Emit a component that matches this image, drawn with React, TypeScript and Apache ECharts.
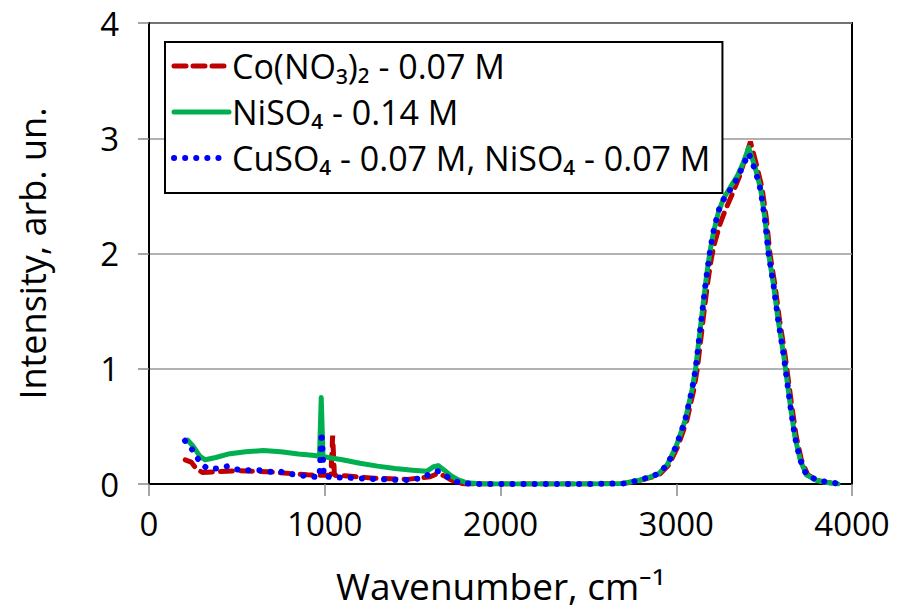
import React, { useEffect, useRef } from "react";
import * as echarts from "echarts";

const xTicks = [0, 1000, 2000, 3000, 4000];
const yTicks = [0, 1, 2, 3, 4];

const coName = "Co(NO₃)₂ - 0.07 M";
const niName = "NiSO₄ - 0.14 M";
const cuName = "CuSO₄ - 0.07 M, NiSO₄ - 0.07 M";

const coX = [206, 240, 270, 305, 390, 520, 670, 810, 900, 980, 1035, 1045, 1055, 1130, 1280, 1470, 1600, 1640, 1680, 1720, 1760, 1800, 1900, 2200, 2500, 2700, 2790, 2860, 2910, 2960, 3010, 3060, 3100, 3120, 3140, 3160, 3180, 3200, 3220, 3250, 3280, 3320, 3360, 3395, 3422, 3458, 3488, 3513, 3533, 3563, 3588, 3618, 3638, 3658, 3683, 3712, 3748, 3805, 3855, 3905, 3925];
const coY = [0.21, 0.19, 0.13, 0.1, 0.107, 0.115, 0.107, 0.09, 0.08, 0.075, 0.075, 0.42, 0.075, 0.07, 0.05, 0.04, 0.063, 0.09, 0.07, 0.035, 0.01, 0, 0, 0, 0, 0.005, 0.03, 0.06, 0.09, 0.17, 0.33, 0.55, 0.82, 1.0, 1.26, 1.52, 1.76, 1.96, 2.1, 2.26, 2.38, 2.52, 2.67, 2.84, 2.97, 2.76, 2.57, 2.3, 2.0, 1.71, 1.42, 1.13, 0.9, 0.67, 0.41, 0.21, 0.08, 0.03, 0.015, 0.005, 0];

const niX = [220, 250, 290, 320, 380, 450, 550, 650, 750, 850, 930, 970, 980, 990, 1020, 1100, 1200, 1300, 1400, 1500, 1580, 1620, 1645, 1680, 1720, 1760, 1810, 1900, 2200, 2500, 2700, 2780, 2850, 2900, 2950, 3000, 3050, 3090, 3110, 3130, 3150, 3170, 3190, 3210, 3240, 3270, 3310, 3350, 3385, 3412, 3450, 3480, 3505, 3525, 3555, 3580, 3610, 3630, 3650, 3675, 3705, 3740, 3800, 3850, 3900, 3920];
const niY = [0.38, 0.33, 0.24, 0.21, 0.23, 0.26, 0.28, 0.29, 0.28, 0.26, 0.25, 0.24, 0.75, 0.24, 0.23, 0.21, 0.18, 0.155, 0.135, 0.12, 0.11, 0.15, 0.16, 0.12, 0.07, 0.035, 0.01, 0, 0, 0, 0.005, 0.03, 0.06, 0.09, 0.17, 0.33, 0.55, 0.82, 1.0, 1.26, 1.52, 1.78, 2.0, 2.17, 2.36, 2.48, 2.58, 2.68, 2.8, 2.92, 2.74, 2.56, 2.3, 2.0, 1.71, 1.42, 1.13, 0.9, 0.67, 0.41, 0.21, 0.08, 0.03, 0.015, 0.005, 0];

const cuX = [205, 230, 250, 290, 330, 390, 450, 500, 560, 630, 690, 750, 815, 880, 940, 970, 982, 995, 1010, 1070, 1130, 1190, 1260, 1350, 1420, 1490, 1560, 1620, 1645, 1680, 1720, 1760, 1800, 1900, 2200, 2500, 2700, 2780, 2850, 2900, 2950, 3000, 3050, 3090, 3110, 3130, 3150, 3170, 3190, 3210, 3240, 3270, 3310, 3350, 3385, 3412, 3450, 3480, 3505, 3525, 3555, 3580, 3610, 3630, 3650, 3675, 3705, 3740, 3800, 3850, 3900, 3920];
const cuY = [0.375, 0.33, 0.29, 0.19, 0.135, 0.135, 0.155, 0.127, 0.12, 0.12, 0.107, 0.107, 0.084, 0.072, 0.063, 0.06, 0.45, 0.06, 0.063, 0.058, 0.055, 0.05, 0.045, 0.04, 0.035, 0.035, 0.055, 0.107, 0.11, 0.08, 0.04, 0.015, 0.005, 0, 0, 0, 0.005, 0.03, 0.06, 0.09, 0.17, 0.33, 0.55, 0.82, 1.0, 1.26, 1.52, 1.78, 2.0, 2.18, 2.37, 2.47, 2.56, 2.66, 2.78, 2.87, 2.72, 2.55, 2.29, 2.0, 1.71, 1.42, 1.13, 0.9, 0.67, 0.41, 0.21, 0.08, 0.035, 0.02, 0.01, 0];

const zip = (xs: number[], ys: number[]) => xs.map((x, i) => [x, ys[i]]);

const FONT = "Open Sans";

export default function App() {
  const ref = useRef<HTMLDivElement>(null);
  useEffect(() => {
    if (!ref.current) return;
    const chart = echarts.init(ref.current, undefined, { renderer: "svg" });
    chart.setOption({
      animation: false,
      backgroundColor: "#fff",
      textStyle: { fontFamily: FONT },
      grid: {
        left: 149,
        right: 48,
        top: 23,
        bottom: 128,
        show: true,
        borderColor: "#000",
        borderWidth: 2,
        backgroundColor: "transparent",
      },
      legend: {
        orient: "vertical",
        left: 165,
        top: 42,
        padding: [5, 12, 16, 6],
        itemGap: 8,
        itemWidth: 55,
        itemHeight: 14,
        borderColor: "#000",
        borderWidth: 2,
        backgroundColor: "#fff",
        itemStyle: { opacity: 0 },
        textStyle: { fontFamily: FONT, fontSize: 34, lineHeight: 38, color: "#000", padding: [0, 0, 0, -2] },
        data: [
          { name: coName, lineStyle: { width: 5, type: [12, 7], cap: "round" } },
          { name: niName, lineStyle: { width: 5 } },
          { name: cuName, lineStyle: { width: 6, type: [0.1, 11], cap: "round" } },
        ],
      },
      xAxis: {
        type: "value",
        min: xTicks[0],
        max: xTicks[xTicks.length - 1],
        interval: 1000,
        name: "Wavenumber, cm⁻¹",
        nameLocation: "middle",
        nameGap: 83,
        nameTextStyle: { fontFamily: FONT, fontSize: 37, color: "#000" },
        axisLine: { lineStyle: { color: "#000", width: 2 } },
        axisTick: { show: true, length: 12, lineStyle: { color: "#888", width: 1.5 } },
        axisLabel: { fontFamily: FONT, fontSize: 33, color: "#000", margin: 23, formatter: (v: number) => String(v) },
        splitLine: { show: false },
      },
      yAxis: {
        type: "value",
        min: yTicks[0],
        max: yTicks[yTicks.length - 1],
        interval: 1,
        name: "Intensity, arb. un.",
        nameLocation: "middle",
        nameGap: 99,
        nameTextStyle: { fontFamily: FONT, fontSize: 36, color: "#000" },
        axisLine: { show: true, lineStyle: { color: "#000", width: 2 } },
        axisTick: { show: true, length: 11, lineStyle: { color: "#888", width: 1.5 } },
        axisLabel: { fontFamily: FONT, fontSize: 33, color: "#000", margin: 30 },
        splitLine: { show: true, lineStyle: { color: "#999", width: 1.5 } },
      },
      series: [
        {
          name: niName,
          type: "line",
          data: zip(niX, niY),
          showSymbol: false,
          symbol: "none",
          z: 2,
          lineStyle: { color: "#00B050", width: 5, cap: "round", join: "round" },
          itemStyle: { color: "#00B050" },
        },
        {
          name: coName,
          type: "line",
          data: zip(coX, coY),
          showSymbol: false,
          symbol: "none",
          z: 1,
          lineStyle: { color: "#C00000", width: 5, type: [12, 8], cap: "round" },
          itemStyle: { color: "#C00000" },
        },
        {
          name: cuName,
          type: "line",
          data: zip(cuX, cuY),
          showSymbol: false,
          symbol: "none",
          z: 3,
          lineStyle: { color: "#0000FF", width: 6, type: [0.1, 11], cap: "round" },
          itemStyle: { color: "#0000FF" },
        },
      ],
    });
    return () => chart.dispose();
  }, []);
  return <div ref={ref} style={{ width: 900, height: 612, position: "absolute", left: 0, top: 0 }} />;
}
